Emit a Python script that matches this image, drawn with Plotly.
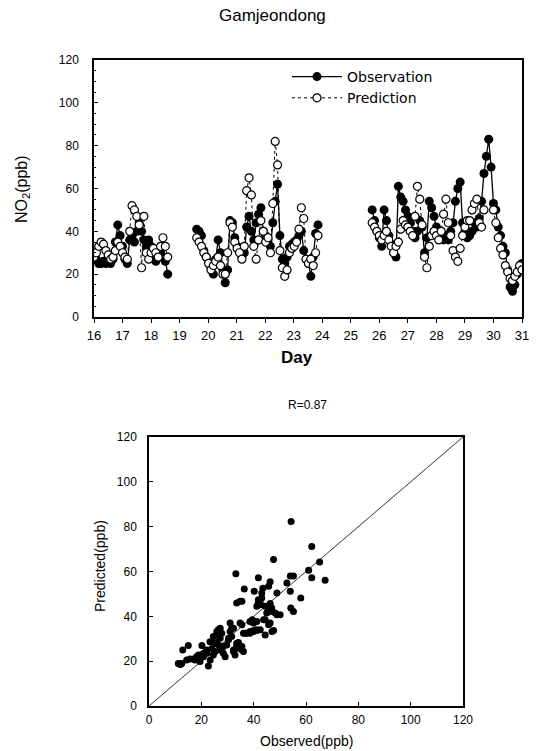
import numpy as np
import plotly.graph_objects as go

# ---------------- data ----------------
station = "Gamjeondong"
r_text = "R=0.87"
day_ticks = list(range(16, 32))
value_ticks = [0, 20, 40, 60, 80, 100, 120]
step_hours = 2  # sampling interval of the series

seg1_start = 16.0
obs1 = [30, 27, 25, 25, 26, 25, 26, 25, 27, 35, 43, 38, 33, 27, 25, 36,
        38, 35, 40, 44, 40, 36, 33, 36, 33, 28, 26, 28, 30, 33, 26, 20]
pred1 = [28, 30, 33, 35, 34, 31, 29, 27, 28, 31, 35, 33, 30, 28, 27, 40,
         52, 50, 47, 43, 23, 47, 30, 27, 30, 32, 30, 28, 33, 37, 33, 28]

seg2_start = 19.6
obs2 = [41, 40, 38, 31, 28, 26, 23, 20, 27, 36, 30, 22, 16, 22, 45, 44,
        37, 33, 31, 28, 30, 42, 47, 40, 36, 44, 48, 51, 40, 38, 36, 33,
        44, 54, 62, 38, 27, 25, 28, 33, 34, 35, 36, 38, 40, 31, 27, 25,
        19, 28, 39, 43]
pred2 = [37, 35, 33, 30, 28, 25, 22, 24, 26, 28, 24, 20, 20, 30, 44, 42,
         35, 32, 30, 27, 33, 59, 65, 57, 33, 27, 36, 45, 40, 35, 37, 30,
         53, 82, 71, 31, 23, 19, 22, 30, 32, 33, 35, 41, 51, 46, 27, 25,
         27, 24, 30, 38]

seg3_start = 25.75
obs3 = [50, 45, 40, 37, 33, 50, 45, 38, 34, 30, 28, 61, 56, 54, 50, 47,
        44, 40, 37, 40, 45, 42, 30, 37, 54, 51, 47, 42, 40, 37, 36, 38,
        36, 40, 44, 54, 60, 63, 44, 40, 37, 38, 40, 44, 42, 46, 54, 67,
        75, 83, 70, 53, 50, 42, 38, 33, 30, 22, 14, 12, 15, 20, 23, 25]
pred3 = [44, 42, 40, 38, 36, 38, 40, 36, 33, 30, 33, 35, 41, 45, 43, 42,
         40, 38, 47, 61, 55, 43, 28, 23, 33, 38, 40, 38, 36, 40, 48, 55,
         44, 38, 31, 28, 26, 32, 38, 42, 45, 45, 50, 53, 55, 44, 42, 50,
         None, None, None, 50, 44, 37, 32, 29, 24, 21, 18, 17, 19, 21, 24, 22]

scatter_obs = [11.2, 12.0, 12.5, 11.8, 12.9, 15.0, 14.4, 15.7, 17.0, 17.6,
               18.2, 18.9, 19.5, 20.2, 20.8, 20.8, 22.0, 22.7, 22.1, 23.3,
               23.4, 24.0, 24.6, 24.6, 25.3, 25.3, 25.9, 25.9, 25.9, 26.5,
               26.5, 27.2, 27.2, 27.2, 27.8, 28.2, 28.4, 28.4, 29.1, 29.7,
               30.4, 30.4, 31.0, 31.0, 31.6, 31.6, 32.3, 32.3, 32.3, 32.9,
               33.5, 33.5, 34.2, 34.2, 35.5, 35.5, 36.1, 33.5, 34.8, 33.2,
               35.5, 36.4, 34.8, 35.5, 36.7, 36.1, 37.3, 38.6, 38.6, 38.6,
               39.5, 39.9, 39.9, 40.0, 41.2, 41.2, 42.5, 41.2, 40.2, 41.8,
               41.2, 42.5, 43.1, 41.8, 41.8, 42.5, 43.8, 44.4, 44.4, 44.4,
               45.0, 45.7, 46.3, 46.3, 45.7, 46.9, 47.0, 47.6, 47.6, 47.0,
               46.3, 45.7, 48.2, 48.9, 48.9, 50.1, 52.7, 54.0, 54.0, 54.2,
               55.2, 54.3, 55.2, 58.0, 61.0, 62.2, 62.2, 65.2, 67.3, 43.5,
               43.1]
scatter_pred = [19.0, 18.5, 19.0, 18.8, 25.0, 27.0, 20.5, 21.0, 21.0, 20.5,
                22.0, 22.8, 19.8, 27.0, 23.5, 22.0, 25.0, 17.8, 23.5, 28.7,
                20.5, 25.7, 22.8, 31.0, 24.3, 28.0, 28.3, 31.7, 33.2, 34.0,
                27.3, 30.2, 34.7, 25.0, 32.5, 26.5, 23.5, 26.5, 22.0, 27.2,
                30.2, 29.5, 33.2, 37.0, 34.7, 31.0, 34.7, 25.0, 24.3, 22.8,
                26.5, 28.0, 28.3, 25.8, 26.5, 25.0, 24.3, 46.0, 46.7, 59.0,
                46.7, 52.2, 37.0, 36.2, 32.5, 32.5, 32.5, 33.2, 32.5, 37.7,
                38.5, 37.0, 33.2, 33.7, 34.0, 33.7, 34.0, 37.7, 51.2, 57.2,
                44.5, 45.2, 48.2, 46.7, 47.4, 46.0, 38.5, 31.7, 38.5, 44.5,
                41.5, 53.4, 55.4, 45.7, 43.0, 43.7, 42.2, 65.4, 33.7, 33.2,
                37.0, 36.2, 41.5, 50.4, 40.7, 40.7, 54.9, 58.0, 51.2, 43.7,
                42.2, 82.3, 58.0, 48.2, 60.6, 71.1, 57.2, 64.2, 56.1, 52.5,
                50.4]
identity_line = [0, 120]

# ---------------- build series ----------------
def series(segments):
    xs, ys = [], []
    for start, vals in segments:
        t = start + np.arange(len(vals)) * step_hours / 24.0
        xs.extend(t.tolist())
        ys.extend(vals)
        xs.append(None)
        ys.append(None)
    return xs, ys

t_obs, v_obs = series([(seg1_start, obs1), (seg2_start, obs2), (seg3_start, obs3)])
t_pred, v_pred = series([(seg1_start, pred1), (seg2_start, pred2), (seg3_start, pred3)])

FONT = "Liberation Sans, Arial, sans-serif"
LEGFONT = "DejaVu Sans, Liberation Sans, sans-serif"
W, H = 540, 751

fig = go.Figure()
fig.add_trace(go.Scatter(
    x=t_obs, y=v_obs, mode="lines+markers", name="Observation",
    line=dict(color="black", width=1.3),
    marker=dict(symbol="circle", size=9, color="black"),
    xaxis="x", yaxis="y", connectgaps=False))
fig.add_trace(go.Scatter(
    x=t_pred, y=v_pred, mode="lines+markers", name="Prediction",
    line=dict(color="black", width=1, dash="dot"),
    marker=dict(symbol="circle", size=8, color="white",
                line=dict(color="black", width=1.2)),
    xaxis="x", yaxis="y", connectgaps=False))

fig.add_trace(go.Scatter(
    x=identity_line, y=identity_line, mode="lines", showlegend=False,
    line=dict(color="black", width=0.8), xaxis="x2", yaxis="y2"))
fig.add_trace(go.Scatter(
    x=scatter_obs, y=scatter_pred, mode="markers", showlegend=False,
    marker=dict(symbol="circle", size=7, color="black"),
    xaxis="x2", yaxis="y2"))

def px_x(p):
    return p / W

def px_y(p):
    return 1 - p / H

def axis_style(ticks="inside", ticklen=4, fontsize=12):
    return dict(showline=True, linecolor="black", linewidth=1.5, mirror=True,
                showgrid=False, zeroline=False, ticks=ticks, ticklen=ticklen,
                tickwidth=1, tickcolor="black", automargin=False,
                tickfont=dict(family=FONT, size=fontsize, color="black"))

fig.update_layout(
    width=W, height=H,
    margin=dict(l=0, r=0, t=0, b=0, autoexpand=False),
    paper_bgcolor="white", plot_bgcolor="white",
    font=dict(family=FONT, color="black"),
    xaxis=dict(domain=[px_x(94), px_x(522)], range=[16, 31],
               tickvals=day_ticks, anchor="y", ticklabelstandoff=2,
               **axis_style("outside", 4, 13)),
    yaxis=dict(domain=[px_y(317), px_y(60)], range=[0, 120],
               tickvals=value_ticks, anchor="x", ticklabelstandoff=11,
               minor=dict(dtick=5, ticks="inside", ticklen=2, tickcolor="black"),
               **axis_style()),
    xaxis2=dict(domain=[px_x(149), px_x(463)], range=[0, 120],
                tickvals=value_ticks, anchor="y2", ticklabelstandoff=2,
                **axis_style()),
    yaxis2=dict(domain=[px_y(706), px_y(437)], range=[0, 120],
                tickvals=value_ticks, anchor="x2", ticklabelstandoff=8,
                **axis_style()),
    legend=dict(x=px_x(287), y=px_y(61), xanchor="left", yanchor="top",
                bgcolor="rgba(0,0,0,0)", tracegroupgap=0, itemwidth=50,
                font=dict(family=LEGFONT, size=14, color="black")),
    showlegend=True,
)

annots = [
    dict(text=station, x=px_x(272), y=px_y(15), font=dict(size=17)),
    dict(text="<b>Day</b>", x=px_x(297), y=px_y(357), font=dict(size=17)),
    dict(text="NO<sub>2</sub>(ppb)", x=px_x(22), y=px_y(189), font=dict(size=16), textangle=-90),
    dict(text=r_text, x=px_x(307), y=px_y(405), font=dict(size=12)),
    dict(text="Observed(ppb)", x=px_x(306), y=px_y(741), font=dict(size=14)),
    dict(text="Predicted(ppb)", x=px_x(100), y=px_y(566), font=dict(size=14), textangle=-90),
]
for a in annots:
    a.setdefault("xref", "paper")
    a.setdefault("yref", "paper")
    a["showarrow"] = False
    a["xanchor"] = "center"
    a["yanchor"] = "middle"
    a["font"] = dict(family=FONT, color="black", **a["font"])
    fig.add_annotation(**a)

fig.write_html("out.html", config={"displayModeBar": False},
               post_script="document.body.style.margin='0';document.body.style.overflow='hidden';")
